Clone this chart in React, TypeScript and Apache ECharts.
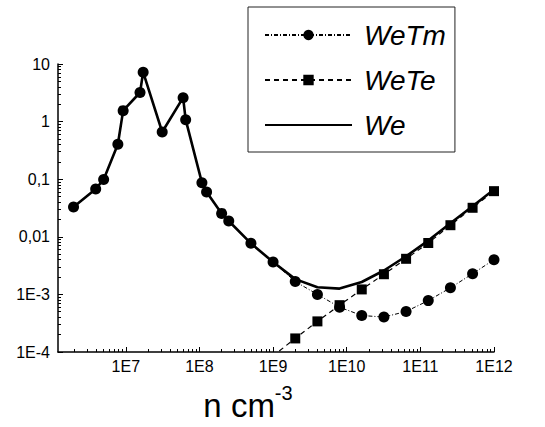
import React, { useEffect, useRef } from "react";
import * as echarts from "echarts";

// Density n (cm^-3) and values
const nTm = [1.95e6, 3.9e6, 5.0e6, 7.8e6, 9.2e6, 1.56e7, 1.72e7, 3.12e7, 6.0e7, 6.5e7, 1.08e8, 1.25e8, 2.0e8, 2.5e8, 5.0e8, 1.0e9, 2.0e9, 4.0e9, 8.0e9, 1.6e10, 3.2e10, 6.4e10, 1.28e11, 2.56e11, 5.12e11, 1.0e12];
const weTm = [0.0328, 0.0675, 0.099, 0.405, 1.55, 3.2, 7.2, 0.66, 2.6, 1.08, 0.087, 0.06, 0.0255, 0.0188, 0.0077, 0.00364, 0.00167, 0.001, 0.0006, 0.00043, 0.000404, 0.000505, 0.00078, 0.0013, 0.00229, 0.004];

const nTe = [5.0e8, 1.0e9, 2.0e9, 4.0e9, 8.0e9, 1.6e10, 3.2e10, 6.4e10, 1.28e11, 2.56e11, 5.12e11, 1.0e12];
const weTe = [4.3e-5, 8.6e-5, 0.000172, 0.00034, 0.00065, 0.00122, 0.00224, 0.00415, 0.0078, 0.0159, 0.0319, 0.062];

const nWe = [1.95e6, 3.9e6, 5.0e6, 7.8e6, 9.2e6, 1.56e7, 1.72e7, 3.12e7, 6.0e7, 6.5e7, 1.08e8, 1.25e8, 2.0e8, 2.5e8, 5.0e8, 1.0e9, 2.0e9, 4.0e9, 8.0e9, 1.6e10, 3.2e10, 6.4e10, 1.28e11, 2.56e11, 5.12e11, 1.0e12];
const weWe = [0.0328, 0.0675, 0.099, 0.405, 1.55, 3.2, 7.2, 0.66, 2.6, 1.08, 0.087, 0.06, 0.0255, 0.0188, 0.0077, 0.00364, 0.00184, 0.00133, 0.00126, 0.00164, 0.0026, 0.0046, 0.0086, 0.0172, 0.034, 0.066];

const seriesNames = ["WeTm", "WeTe", "We"];

const xMajor = [1e7, 1e8, 1e9, 1e10, 1e11, 1e12];
const xTickLabels = ["1E7", "1E8", "1E9", "1E10", "1E11", "1E12"];
const yMajor = [1e-4, 1e-3, 1e-2, 1e-1, 1, 10];
const yTickLabels = ["1E-4", "1E-3", "0,01", "0,1", "1", "10"];
const minorMultiples = [2, 3, 4, 5, 6, 7, 8, 9];
const xDecades = [6, 7, 8, 9, 10, 11];
const yDecades = [-4, -3, -2, -1, 0];

const X_MIN = 1.2e6;
const X_MAX = 1e12;
const Y_MIN = 1e-4;
const Y_MAX = 10;

const FONT = "'Liberation Sans', Arial, sans-serif";

function minorTicks(decades: number[], lo: number, hi: number) {
  const out: number[] = [];
  decades.forEach((d) => {
    minorMultiples.forEach((m) => {
      const v = m * Math.pow(10, d);
      if (v >= lo && v <= hi) out.push(v);
    });
  });
  return out;
}

function labelFor(v: number, majors: number[], labels: string[]) {
  const lv = Math.log10(v);
  const i = majors.findIndex((m) => Math.abs(Math.log10(m) - lv) < 1e-6);
  return i >= 0 ? labels[i] : "";
}

export default function App() {
  const ref = useRef<HTMLDivElement>(null);
  useEffect(() => {
    if (!ref.current) return;
    const chart = echarts.init(ref.current, null, { renderer: "svg" });
    const pair = (xs: number[], ys: number[]) => xs.map((x, i) => [x, ys[i]]);
    const baseX = {
      type: "log",
      logBase: 10,
      min: X_MIN,
      max: X_MAX,
      position: "bottom",
      gridIndex: 0,
      splitLine: { show: false },
    };
    const baseY = {
      type: "log",
      logBase: 10,
      min: Y_MIN,
      max: Y_MAX,
      position: "left",
      gridIndex: 0,
      splitLine: { show: false },
    };
    const option: any = {
      animation: false,
      backgroundColor: "#fff",
      grid: { left: 58, right: 51, top: 64, bottom: 71 },
      legend: {
        orient: "vertical",
        left: 248,
        top: 7,
        data: [
          { name: seriesNames[0] },
          { name: seriesNames[1] },
          { name: seriesNames[2], itemStyle: { opacity: 0 } },
        ],
        itemWidth: 87,
        itemHeight: 13,
        itemGap: 13,
        padding: [12, 9, 11, 16],
        borderColor: "#222",
        borderWidth: 1,
        backgroundColor: "#fff",
        textStyle: {
          fontFamily: FONT,
          fontStyle: "italic",
          fontSize: 28,
          lineHeight: 32,
          color: "#000",
          padding: [0, 0, 0, 7],
        },
      },
      xAxis: [
        {
          ...baseX,
          axisLine: { lineStyle: { color: "#000", width: 1.5 } },
          axisTick: { inside: true, length: 5, customValues: xMajor, lineStyle: { color: "#000", width: 1 } },
          axisLabel: {
            customValues: xMajor,
            formatter: (v: number) => labelFor(v, xMajor, xTickLabels),
            color: "#000",
            fontFamily: FONT,
            fontSize: 16,
            margin: 6,
          },
          name: "{a|n cm}{b|-3}",
          nameLocation: "middle",
          nameGap: 31,
          nameTextStyle: {
            padding: [0, 56, 0, 0],
            rich: {
              a: { fontFamily: FONT, fontSize: 33, color: "#000", verticalAlign: "bottom", lineHeight: 39 },
              b: { fontFamily: FONT, fontSize: 20, color: "#000", verticalAlign: "top", lineHeight: 22 },
            },
          },
        },
        {
          ...baseX,
          axisLine: { show: false },
          axisTick: { inside: true, length: 3, customValues: minorTicks(xDecades, X_MIN, X_MAX), lineStyle: { color: "#000", width: 1 } },
          axisLabel: { show: false },
        },
      ],
      yAxis: [
        {
          ...baseY,
          axisLine: { show: true, lineStyle: { color: "#000", width: 1.5 } },
          axisTick: { show: true, inside: true, length: 5, customValues: yMajor, lineStyle: { color: "#000", width: 1 } },
          axisLabel: {
            customValues: yMajor,
            formatter: (v: number) => labelFor(v, yMajor, yTickLabels),
            color: "#000",
            fontFamily: FONT,
            fontSize: 16,
            margin: 8,
          },
        },
        {
          ...baseY,
          axisLine: { show: false },
          axisTick: { show: true, inside: true, length: 3, customValues: minorTicks(yDecades, Y_MIN, Y_MAX), lineStyle: { color: "#000", width: 1 } },
          axisLabel: { show: false },
        },
      ],
      series: [
        {
          name: "We",
          type: "line",
          xAxisIndex: 0,
          yAxisIndex: 0,
          data: pair(nWe, weWe),
          symbol: "none",
          lineStyle: { color: "#000", width: 2.6, type: "solid" },
          itemStyle: { color: "#000" },
          z: 2,
        },
        {
          name: "WeTe",
          type: "line",
          xAxisIndex: 0,
          yAxisIndex: 0,
          data: pair(nTe, weTe),
          symbol: "rect",
          symbolSize: 10,
          lineStyle: { color: "#000", width: 1.2, type: [5, 4] },
          itemStyle: { color: "#000" },
          z: 3,
        },
        {
          name: "WeTm",
          type: "line",
          xAxisIndex: 0,
          yAxisIndex: 0,
          data: pair(nTm, weTm),
          symbol: "circle",
          symbolSize: 11,
          lineStyle: { color: "#000", width: 1, type: [4, 2, 1, 2] },
          itemStyle: { color: "#000" },
          z: 4,
        },
      ],
    };
    chart.setOption(option);
    return () => chart.dispose();
  }, []);
  return <div ref={ref} style={{ position: "fixed", left: 0, top: 0, width: 545, height: 427 }} />;
}
